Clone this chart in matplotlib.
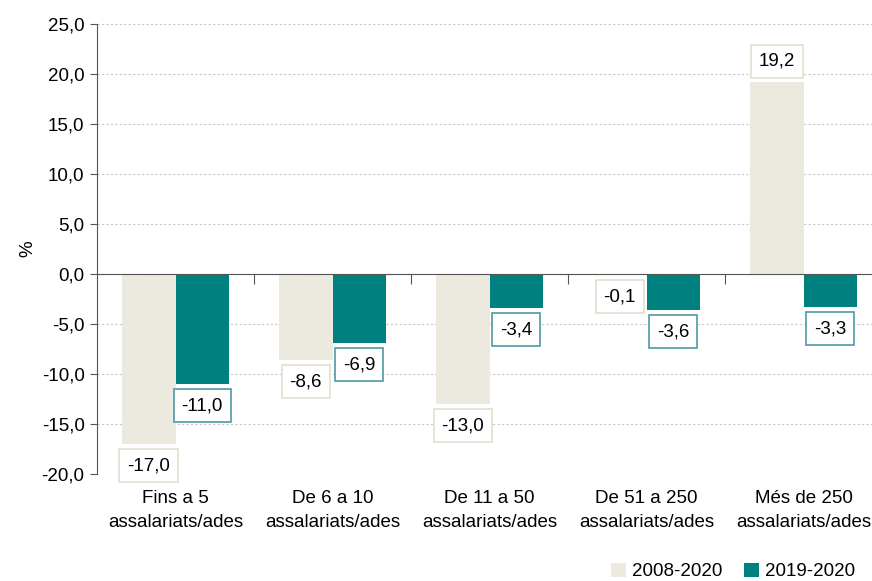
import numpy as np
import matplotlib.pyplot as plt
import matplotlib.transforms as mtransforms

plt.rcParams['font.family'] = ['Liberation Sans', 'DejaVu Sans']

# dades
categories = ["Fins a 5\nassalariats/ades", "De 6 a 10\nassalariats/ades",
              "De 11 a 50\nassalariats/ades", "De 51 a 250\nassalariats/ades",
              "Més de 250\nassalariats/ades"]
series_names = ["2008-2020", "2019-2020"]
vals_2008_2020 = [-17.0, -8.6, -13.0, -0.1, 19.2]
vals_2019_2020 = [-11.0, -6.9, -3.4, -3.6, -3.3]

c_beige = "#ECEADF"
c_teal = "#00807F"
edge_beige = "#E2DFCF"
edge_teal = "#4E9AA6"
fs = 13.5

fig = plt.figure(figsize=(8.72, 5.81), dpi=100)
ax = fig.add_axes([97 / 872, 1 - 474 / 581, 785 / 872, 450 / 581])

x = np.arange(len(categories))
w = 0.34
b1 = ax.bar(x - w / 2, vals_2008_2020, w, color=c_beige, label=series_names[0], zorder=2)
b2 = ax.bar(x + w / 2, vals_2019_2020, w, color=c_teal, label=series_names[1], zorder=2)

def fmt(v):
    return f"{v:.1f}".replace(".", ",")

# etiquetes de valor
for bars, vals, ec in [(b1, vals_2008_2020, edge_beige), (b2, vals_2019_2020, edge_teal)]:
    for rect, v in zip(bars, vals):
        cx = rect.get_x() + rect.get_width() / 2
        off = 15 if v > 0 else -15.5
        ax.annotate(fmt(v), (cx, v), xytext=(0, off), textcoords="offset points",
                    ha="center", va="center", fontsize=fs, zorder=4,
                    bbox=dict(boxstyle="square,pad=0.42", fc="white", ec=ec, lw=1.2))

ax.set_xlim(-0.5, len(categories) - 0.5)
ax.set_ylim(-20, 25)
ax.set_yticks(np.arange(-20, 26, 5))
ax.set_yticklabels([fmt(t) for t in np.arange(-20, 26, 5)], fontsize=fs)
ax.yaxis.grid(True, linestyle=(0, (2, 2)), color="#C8C8C8", lw=0.8, zorder=0)
ax.set_axisbelow(True)
ax.set_ylabel("%", fontsize=fs, labelpad=4)

for s in ["top", "right"]:
    ax.spines[s].set_visible(False)
ax.spines["left"].set_color("#555555")
ax.spines["bottom"].set_position(("data", 0))
ax.spines["bottom"].set_color("#555555")
ax.spines["bottom"].set_zorder(3)
ax.tick_params(axis="y", length=5, color="#555555", pad=4)
ax.set_xticks(np.arange(len(categories) - 1) + 0.5)
ax.set_xticklabels([])
ax.tick_params(axis="x", length=7, color="#555555", direction="out")

trans = mtransforms.blended_transform_factory(ax.transData, ax.transAxes)
for xi, lab in zip(x, categories):
    ax.text(xi, -0.035, lab, transform=trans, ha="center", va="top",
            fontsize=fs, linespacing=1.55)

fig.legend(handles=[b1, b2], labels=series_names, loc="lower right",
           bbox_to_anchor=(1.0, -0.028), ncol=2, frameon=False, fontsize=fs,
           handlelength=0.8, handleheight=0.8, handletextpad=0.3, columnspacing=1.2)

fig.savefig("out.png", dpi=100)
